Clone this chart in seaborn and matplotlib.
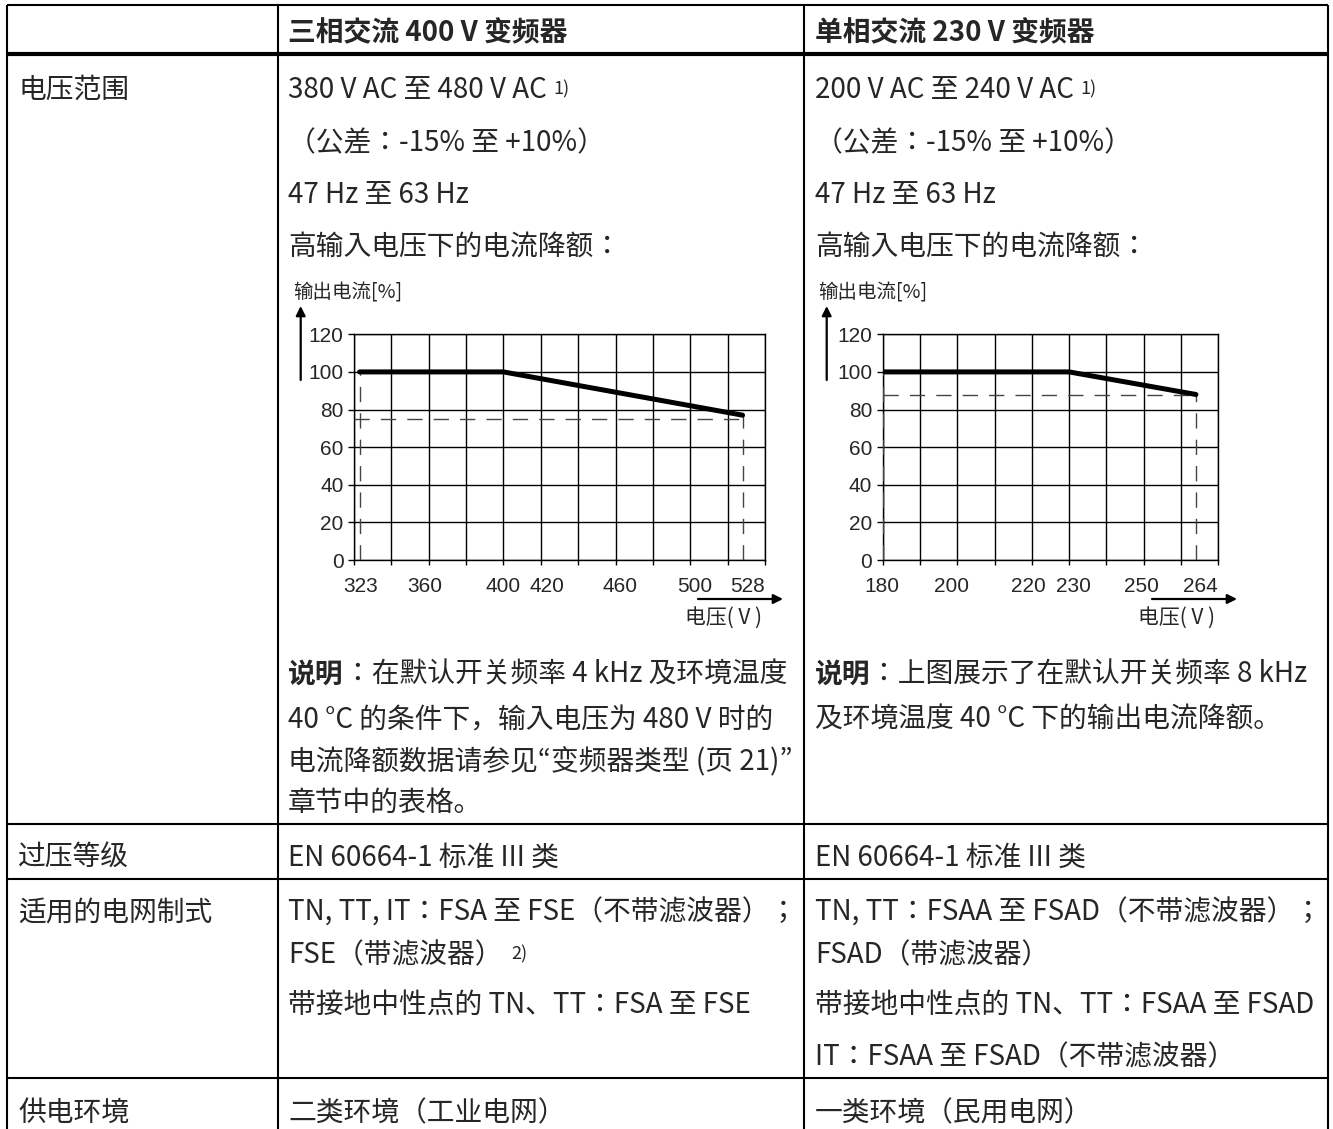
import matplotlib.pyplot as plt
import matplotlib.transforms as mtransforms
import seaborn as sns

W, H = 1333, 1129

# derating curves
volt_3ph = [323, 400, 528]
curr_3ph = [100, 100, 77]
ref_3ph = 75
volt_1ph = [180, 230, 264]
curr_1ph = [100, 100, 88]
ref_1ph = 87.5
xlabels_3ph = [323, 360, 400, 420, 460, 500, 528]
xlabels_1ph = [180, 200, 220, 230, 250, 264]
grid_3ph = list(range(320, 541, 20))
grid_1ph = list(range(180, 271, 10))
yticks = [0, 20, 40, 60, 80, 100, 120]

# table text
headers = ["三相交流 400 V 变频器", "单相交流 230 V 变频器"]
row_labels = ["电压范围", "过压等级", "适用的电网制式", "供电环境"]
range_lines = [["380 V AC 至 480 V AC", "（公差：-15% 至 +10%）", "47 Hz 至 63 Hz", "高输入电压下的电流降额："],
               ["200 V AC 至 240 V AC", "（公差：-15% 至 +10%）", "47 Hz 至 63 Hz", "高输入电压下的电流降额："]]
note_lines = [["：在默认开关频率 4 kHz 及环境温度", "40 °C 的条件下，输入电压为 480 V 时的",
               "电流降额数据请参见“变频器类型 (页 21)”", "章节中的表格。"],
              ["：上图展示了在默认开关频率 8 kHz", "及环境温度 40 °C 下的输出电流降额。"]]
overvolt = ["EN 60664-1 标准 III 类", "EN 60664-1 标准 III 类"]
grid_lines = [["TN, TT, IT：FSA 至 FSE（不带滤波器）；", "FSE（带滤波器）", "带接地中性点的 TN、TT：FSA 至 FSE"],
              ["TN, TT：FSAA 至 FSAD（不带滤波器）；", "FSAD（带滤波器）", "带接地中性点的 TN、TT：FSAA 至 FSAD",
               "IT：FSAA 至 FSAD（不带滤波器）"]]
env = ["二类环境（工业电网）", "一类环境（民用电网）"]

sns.set_style("white")
plt.rcParams["font.family"] = ["Noto Sans CJK JP", "DejaVu Sans"]

fig = plt.figure(figsize=(W / 100, H / 100), dpi=100)
bg = fig.add_axes([0, 0, 1, 1])
bg.set_xlim(0, W)
bg.set_ylim(H, 0)
bg.axis("off")

FS = 20
col_x = [18, 288, 815]

# table rules
bg.hlines(5, 7, 1328, color="black", lw=1.5)
bg.hlines(54, 7, 1328, color="black", lw=3)
bg.hlines([824, 879, 1078], 7, 1328, color="black", lw=1.5)
bg.vlines([7, 278, 804, 1328], 5, H, color="black", lw=1.5)


def put(x, y, s, bold=False, size=FS):
    return bg.text(x, y, s, fontsize=size, fontweight="bold" if bold else "normal",
                   va="center", ha="left")


def sup(t, s, dx=5):
    bg.annotate(s, xy=(1, 1), xycoords=t, xytext=(dx, -3.5), textcoords="offset points",
                fontsize=13, va="top", ha="left")


for i, h in enumerate(headers):
    put(col_x[i + 1], 33, h, bold=True)

for lab, y in zip(row_labels, [90, 858, 913, 1113]):
    put(col_x[0], y, lab)

range_y = [90, 143, 195, 247]
for c in range(2):
    for k, (s, y) in enumerate(zip(range_lines[c], range_y)):
        t = put(col_x[c + 1], y, s)
        if k == 0:
            sup(t, "1)")

note_y = [675, 720, 762, 803]
for c in range(2):
    for k, (s, y) in enumerate(zip(note_lines[c], note_y)):
        if k == 0:
            b = put(col_x[c + 1], y, "说明", bold=True)
            bg.annotate(s, xy=(1, 0), xycoords=b, va="bottom", ha="left", fontsize=FS)
        else:
            put(col_x[c + 1], y, s)

for c in range(2):
    put(col_x[c + 1], 858, overvolt[c])
    put(col_x[c + 1], 1113, env[c])

grid_y = [913, 955, 1005, 1057]
for c in range(2):
    for k, (s, y) in enumerate(zip(grid_lines[c], grid_y)):
        t = put(col_x[c + 1], y, s)
        if c == 0 and k == 1:
            sup(t, "2)", dx=6)


def derating(left, right, volt, curr, ref, grid, labels, nudge):
    top, bottom = 334.3, 560
    ax = fig.add_axes([left / W, 1 - bottom / H, (right - left) / W, (bottom - top) / H])
    sns.lineplot(x=volt, y=curr, ax=ax, color="black", linewidth=3.6, zorder=4)
    dash = (0, (11, 8))
    ax.hlines(ref, grid[0], volt[-1], colors="#444444", lw=1, linestyles=dash, zorder=3)
    ax.vlines(volt[0], 0, curr[0], colors="#444444", lw=1, linestyles=dash, zorder=3)
    ax.vlines(volt[-1], 0, curr[-1], colors="#444444", lw=1, linestyles=dash, zorder=3)
    ax.set_xlim(grid[0], grid[-1])
    ax.set_ylim(0, 120)
    ax.xaxis.remove_overlapping_locs = False
    ax.set_xticks(grid)
    ax.set_xticklabels([])
    ax.set_xticks(labels, minor=True)
    ax.set_xticklabels([str(v) for v in labels], minor=True)
    ax.set_yticks(yticks)
    ax.set_yticklabels([str(v) for v in yticks])
    ax.tick_params(axis="x", which="minor", length=0, pad=12,
                   labelsize=15, labelfontfamily="Liberation Sans")
    ax.tick_params(axis="x", which="major", bottom=True, length=3.6, width=1, color="black")
    ax.tick_params(axis="y", left=True, length=4.3, width=1, pad=3.2, color="black",
                   labelsize=15, labelfontfamily="Liberation Sans")
    ax.grid(True, which="major", color="black", lw=1)
    for sp in ax.spines.values():
        sp.set_visible(True)
        sp.set_color("black")
        sp.set_linewidth(1)
    ax.set_xlabel("")
    ax.set_ylabel("")
    # the printed labels sit a few pixels off their nominal voltage
    for tick, dx in zip(ax.xaxis.get_minor_ticks(), nudge):
        off = mtransforms.ScaledTranslation(dx / 100, 0, fig.dpi_scale_trans)
        tick.label1.set_transform(tick.label1.get_transform() + off)
    return ax


derating(354, 765, volt_3ph, curr_3ph, ref_3ph, grid_3ph, xlabels_3ph, [1, -4, 0, 6, 4, 4, 5])
derating(882.7, 1218.3, volt_1ph, curr_1ph, ref_1ph, grid_1ph, xlabels_1ph, [-1, -6, -3, 4, -2, 4])

arrow = dict(arrowstyle="-|>", color="black", lw=1.6, mutation_scale=14, shrinkA=0, shrinkB=0)
for ylab_x, arr_x, xa0, xa1, xlab_r in [(293, 300.7, 698, 783, 762), (818, 826.7, 1152, 1237, 1215)]:
    bg.text(ylab_x, 293, "输出电流[%]", fontsize=14, va="center", ha="left")
    bg.annotate("", xy=(arr_x, 306), xytext=(arr_x, 380), arrowprops=arrow)
    bg.annotate("", xy=(xa1, 599), xytext=(xa0, 599), arrowprops=arrow)
    bg.text(xlab_r, 618, "电压( V )", fontsize=15, va="center", ha="right")

fig.savefig("out.png", dpi=100)
